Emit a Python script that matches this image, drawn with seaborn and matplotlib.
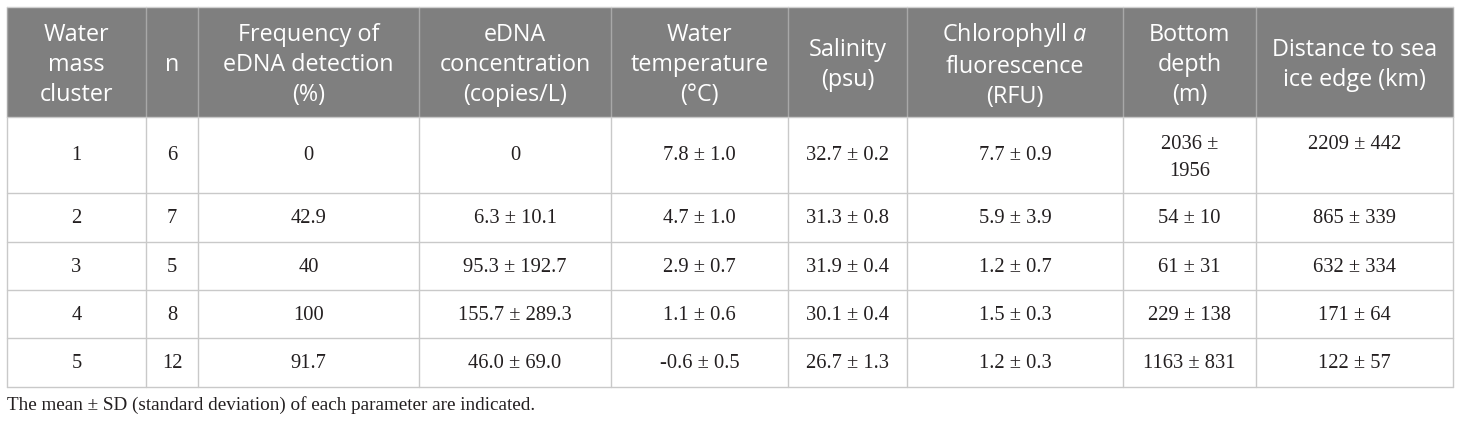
import matplotlib
matplotlib.use("Agg")
import matplotlib.pyplot as plt
from matplotlib.patches import Rectangle
import seaborn as sns

# table content
headers = ["Water\nmass\ncluster", "n", "Frequency of\neDNA detection\n(%)",
           "eDNA\nconcentration\n(copies/L)", "Water\ntemperature\n(°C)",
           "Salinity\n(psu)", "Chlorophyll $\\mathit{a}$\nfluorescence\n(RFU)",
           "Bottom\ndepth\n(m)", "Distance to sea\nice edge (km)"]
clusters = ["1", "2", "3", "4", "5"]
n_samples = ["6", "7", "5", "8", "12"]
freq_detect = ["0", "42.9", "40", "100", "91.7"]
edna_conc = ["0", "6.3 ± 10.1", "95.3 ± 192.7", "155.7 ± 289.3", "46.0 ± 69.0"]
water_temp = ["7.8 ± 1.0", "4.7 ± 1.0", "2.9 ± 0.7", "1.1 ± 0.6", "-0.6 ± 0.5"]
salinity = ["32.7 ± 0.2", "31.3 ± 0.8", "31.9 ± 0.4", "30.1 ± 0.4", "26.7 ± 1.3"]
chl_fluor = ["7.7 ± 0.9", "5.9 ± 3.9", "1.2 ± 0.7", "1.5 ± 0.3", "1.2 ± 0.3"]
bottom_depth = ["2036 ±\n1956", "54 ± 10", "61 ± 31", "229 ± 138", "1163 ± 831"]
dist_ice = ["2209 ± 442", "865 ± 339", "632 ± 334", "171 ± 64", "122 ± 57"]
footnote = "The mean ± SD (standard deviation) of each parameter are indicated."

columns = [clusters, n_samples, freq_detect, edna_conc, water_temp,
           salinity, chl_fluor, bottom_depth, dist_ice]

# layout (pixel grid of the figure)
col_edges = [7, 146, 198, 419, 611, 788, 907, 1123, 1256, 1453]
row_edges = [7, 117, 193, 242, 290, 338, 387]

sns.set_theme(style="white")
plt.rcParams["mathtext.fontset"] = "custom"
plt.rcParams["mathtext.rm"] = "Open Sans"
plt.rcParams["mathtext.it"] = "Open Sans:italic"

fig = plt.figure(figsize=(14.6, 4.24), dpi=100)
ax = fig.add_axes([0, 0, 1, 1])
ax.set_xlim(0, 1460)
ax.set_ylim(424, 0)
ax.axis("off")

header_bg = "#7f7f7f"
grid_col = "#c9c9c9"
body_col = "#231f20"

# header band
ax.add_patch(Rectangle((col_edges[0], row_edges[0]), col_edges[-1] - col_edges[0],
                       row_edges[1] - row_edges[0], facecolor=header_bg, edgecolor="none"))

# grid lines
for x in col_edges:
    ax.plot([x, x], [row_edges[0], row_edges[1]], color="#a8a8a8", lw=1)
    ax.plot([x, x], [row_edges[1], row_edges[-1]], color=grid_col, lw=1)
for y in row_edges[1:]:
    ax.plot([col_edges[0], col_edges[-1]], [y, y], color=grid_col, lw=1)
ax.plot([col_edges[0], col_edges[-1]], [row_edges[0], row_edges[0]], color="#d0d0d0", lw=1)

# header text
hy = (row_edges[0] + row_edges[1]) / 2 + 3
for j, h in enumerate(headers):
    cx = (col_edges[j] + col_edges[j + 1]) / 2
    ax.text(cx, hy, h, ha="center", va="center", color="white",
            fontsize=16.8, family="Open Sans", linespacing=1.36)

# body text
for j, col in enumerate(columns):
    cx = (col_edges[j] + col_edges[j + 1]) / 2
    for i, val in enumerate(col):
        top, bot = row_edges[i + 1], row_edges[i + 2]
        if i == 0 and (j == 7 or j == 8):
            ax.text(cx, top + 18, val, ha="center", va="top", color=body_col,
                    fontsize=14.8, family="Liberation Serif", linespacing=1.6)
        else:
            ax.text(cx, (top + bot) / 2 + 1, val, ha="center", va="center", color=body_col,
                    fontsize=14.8, family="Liberation Serif")

ax.text(col_edges[0], 405, footnote, ha="left", va="center", color=body_col,
        fontsize=13.8, family="Liberation Serif")

fig.savefig("out.png", dpi=100)
plt.close(fig)
